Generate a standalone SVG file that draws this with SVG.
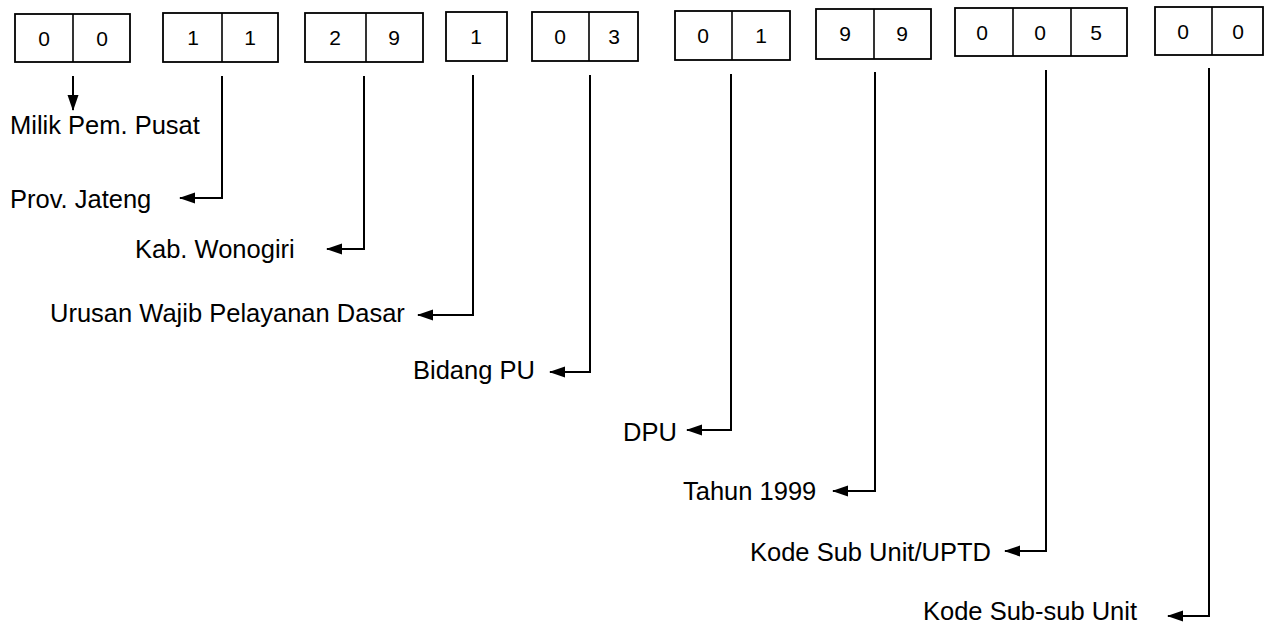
<svg xmlns="http://www.w3.org/2000/svg" width="1271" height="632" viewBox="0 0 1271 632">
<style>
.box{fill:#fff;stroke:#000;stroke-width:1.8}
.div{stroke:#000;stroke-width:1.6}
.dg{font-family:"Liberation Sans",Arial,sans-serif;font-size:21px;fill:#000;text-anchor:middle}
.lb{font-family:"Liberation Sans",Arial,sans-serif;font-size:25.5px;fill:#000}
.cn{fill:none;stroke:#000;stroke-width:2}
</style>
<defs>
<marker id="ah" markerWidth="16" markerHeight="12" refX="15" refY="6" orient="auto" markerUnits="userSpaceOnUse">
<path d="M0,0.5 L16,6 L0,11.5 Z" fill="#000"/>
</marker>
</defs>
<rect width="1271" height="632" fill="#fff"/>
<g id="b1"><rect class="box" x="15" y="14" width="115" height="48"/><line class="div" x1="73" y1="14" x2="73" y2="62"/><text class="dg" x="44" y="46">0</text><text class="dg" x="102" y="46">0</text></g>
<g id="b2"><rect class="box" x="163" y="13" width="115" height="49"/><line class="div" x1="222" y1="13" x2="222" y2="62"/><text class="dg" x="193" y="45">1</text><text class="dg" x="250" y="45">1</text></g>
<g id="b3"><rect class="box" x="305" y="13" width="118" height="49"/><line class="div" x1="366" y1="13" x2="366" y2="62"/><text class="dg" x="335" y="45">2</text><text class="dg" x="394" y="45">9</text></g>
<g id="b4"><rect class="box" x="446" y="12" width="61" height="49"/><text class="dg" x="476" y="44">1</text></g>
<g id="b5"><rect class="box" x="532" y="12" width="106" height="49"/><line class="div" x1="589" y1="12" x2="589" y2="61"/><text class="dg" x="560" y="44">0</text><text class="dg" x="614" y="44">3</text></g>
<g id="b6"><rect class="box" x="675" y="11" width="115" height="49"/><line class="div" x1="732" y1="11" x2="732" y2="60"/><text class="dg" x="703" y="43">0</text><text class="dg" x="761" y="43">1</text></g>
<g id="b7"><rect class="box" x="816" y="9" width="115" height="50"/><line class="div" x1="874" y1="9" x2="874" y2="59"/><text class="dg" x="845" y="41">9</text><text class="dg" x="902" y="41">9</text></g>
<g id="b8"><rect class="box" x="955" y="8" width="172" height="48"/><line class="div" x1="1013" y1="8" x2="1013" y2="56"/><line class="div" x1="1071" y1="8" x2="1071" y2="56"/><text class="dg" x="982" y="40">0</text><text class="dg" x="1040" y="40">0</text><text class="dg" x="1096" y="40">5</text></g>
<g id="b9"><rect class="box" x="1155" y="7" width="108" height="48"/><line class="div" x1="1212" y1="7" x2="1212" y2="55"/><text class="dg" x="1183" y="39">0</text><text class="dg" x="1238" y="39">0</text></g>
<g id="connectors">
<path class="cn" d="M73,76 V110" marker-end="url(#ah)"/>
<path class="cn" d="M222,76 V198 H180" marker-end="url(#ah)"/>
<path class="cn" d="M364,76 V249 H327" marker-end="url(#ah)"/>
<path class="cn" d="M473,75 V315 H418" marker-end="url(#ah)"/>
<path class="cn" d="M590,75 V372 H550" marker-end="url(#ah)"/>
<path class="cn" d="M731,74 V430 H687" marker-end="url(#ah)"/>
<path class="cn" d="M875,72 V491 H833" marker-end="url(#ah)"/>
<path class="cn" d="M1046,70 V551 H1005" marker-end="url(#ah)"/>
<path class="cn" d="M1209,68 V616 H1168" marker-end="url(#ah)"/>
</g>
<g id="labels">
<text class="lb" x="10" y="134">Milik Pem. Pusat</text>
<text class="lb" x="10" y="208">Prov. Jateng</text>
<text class="lb" x="135" y="258">Kab. Wonogiri</text>
<text class="lb" x="50" y="322">Urusan Wajib Pelayanan Dasar</text>
<text class="lb" x="413" y="379">Bidang PU</text>
<text class="lb" x="623" y="441">DPU</text>
<text class="lb" x="683" y="500">Tahun 1999</text>
<text class="lb" x="750" y="561">Kode Sub Unit/UPTD</text>
<text class="lb" x="923" y="620">Kode Sub-sub Unit</text>
</g>
</svg>
